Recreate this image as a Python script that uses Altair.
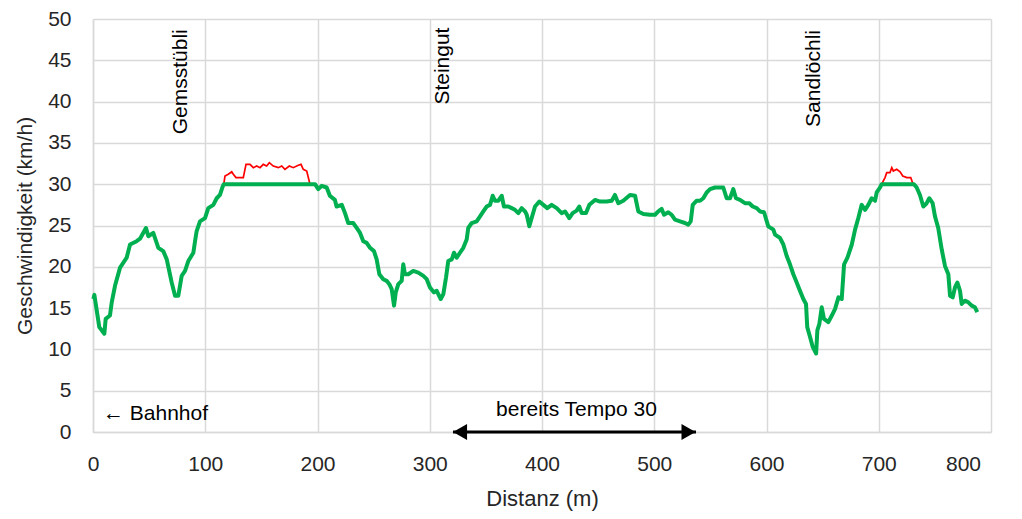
import altair as alt
import pandas as pd

# green: measured speed limited to 30 km/h
distance = [0.3, 1.2, 5.6, 10.1, 11.3, 15.1, 16.7, 19.6, 24.1, 30.0, 33.0, 38.9, 41.9, 47.2, 49.3, 53.7,
            58.2, 62.6, 65.7, 70.1, 73.1, 76.0, 79.0, 82.0, 84.9, 89.4, 90.9, 92.3, 95.3, 99.8, 102.7, 107.2,
            110.2, 113.1, 115.5, 116.5, 197.8, 200.7, 203.7, 208.2, 211.0, 215.5, 217.0, 221.6, 224.5, 227.4,
            231.9, 234.9, 237.9, 240.8, 243.8, 246.8, 250.3, 252.7, 255.1, 258.6, 261.6, 264.0, 266.1, 268.2,
            269.7, 272.0, 275.0, 276.4, 277.9, 280.9, 285.3, 289.8, 294.3, 297.3, 300.2, 303.8, 306.2, 309.8,
            312.1, 314.5, 316.5, 319.6, 321.6, 324.0, 326.9, 329.9, 332.9, 334.3, 337.4, 341.8, 344.8, 347.7,
            350.7, 353.7, 356.1, 358.1, 361.1, 364.1, 366.1, 370.0, 373.0, 375.9, 378.9, 381.9, 384.9, 386.4,
            388.7, 390.8, 393.8, 397.6, 401.2, 404.7, 408.6, 413.1, 417.5, 420.5, 424.3, 427.3, 430.9, 433.2,
            435.4, 439.2, 442.2, 447.2, 451.7, 457.6, 462.1, 465.0, 468.0, 472.4, 478.4, 482.9, 485.8, 490.3,
            496.2, 500.7, 503.6, 506.6, 508.7, 512.5, 515.5, 518.5, 522.9, 527.4, 530.3, 532.5, 534.3, 537.8,
            540.8, 543.7, 546.7, 549.7, 554.1, 558.6, 561.5, 564.5, 567.5, 570.4, 572.8, 576.4, 580.8, 584.7,
            587.7, 591.3, 594.2, 597.8, 601.6, 606.1, 607.6, 612.0, 615.0, 618.0, 620.9, 623.9, 626.9, 629.8,
            632.8, 635.2, 636.3, 638.8, 641.2, 644.2, 645.3, 647.1, 649.2, 651.2, 655.1, 658.2, 661.1, 664.1,
            667.0, 669.1, 672.1, 676.0, 678.9, 681.8, 684.8, 687.8, 690.7, 693.7, 696.7, 698.2, 701.1, 702.6,
            731.4, 733.8, 736.7, 739.7, 742.7, 745.0, 748.0, 750.1, 753.0, 756.1, 759.0, 762.0, 763.5, 765.9,
            767.9, 770.0, 772.4, 773.9, 776.8, 779.8, 782.8, 785.7, 787.8]
speed = [16.1, 16.6, 12.7, 11.9, 13.7, 14.1, 15.7, 17.7, 19.9, 21.1, 22.7, 23.1, 23.4, 24.7, 23.7, 24.1,
         22.3, 21.9, 20.9, 18.1, 16.5, 16.5, 18.9, 19.5, 20.7, 21.7, 23.1, 24.3, 25.5, 25.9, 27.1, 27.5,
         28.3, 28.7, 29.7, 30.0, 30.0, 29.4, 29.8, 29.6, 28.6, 28.1, 27.3, 27.5, 26.5, 25.3,
         25.3, 24.7, 24.1, 23.1, 22.9, 22.3, 21.9, 20.9, 19.1, 18.5, 18.3, 17.9, 17.3, 15.3,
         16.9, 17.9, 18.3, 20.3, 19.1, 19.1, 19.5, 19.3, 18.9, 18.5, 17.5, 16.9, 17.1, 16.1,
         16.7, 18.7, 20.7, 20.9, 21.7, 21.1, 21.7, 22.3, 23.3, 24.7, 25.3, 25.5, 26.1, 26.7,
         27.3, 27.5, 28.6, 28.0, 28.0, 28.6, 27.3, 27.3, 27.1, 26.9, 26.5, 27.1, 26.7, 26.3,
         24.9, 25.9, 27.3, 27.9, 27.5, 27.1, 27.5, 27.1, 26.5, 26.7, 25.9, 26.5, 26.8, 27.3,
         26.5, 26.5, 27.5, 28.1, 27.9, 27.9, 28.0, 28.7, 27.7, 28.0, 28.7, 28.6, 26.7, 26.4,
         26.3, 26.3, 26.7, 27.0, 26.3, 26.6, 26.3, 25.7, 25.5, 25.3, 25.1, 25.5, 27.5, 28.0,
         28.0, 28.3, 29.0, 29.4, 29.6, 29.6, 29.6, 28.3, 28.3, 29.4, 28.3, 28.1, 27.7, 27.7,
         27.3, 27.1, 26.7, 26.6, 24.9, 24.5, 23.9, 23.5, 22.7, 21.3, 20.3, 19.1, 18.1, 17.1,
         16.1, 15.5, 12.7, 11.5, 10.3, 9.5, 12.3, 13.1, 15.1, 13.7, 13.3, 14.1, 14.9, 16.3,
         16.1, 20.3, 21.1, 22.7, 24.5, 25.9, 27.5, 26.9, 27.5, 28.3, 28.0, 29.0, 29.6, 30.0,
         30.0, 29.6, 28.7, 27.3, 27.7, 28.3, 27.7, 26.1, 24.7, 22.1, 20.1, 19.1, 16.5, 16.3,
         17.5, 18.1, 17.1, 15.5, 15.9, 15.7, 15.3, 15.1, 14.5]

# red: measured speed where it exceeds 30 km/h
red_distance = [116.5, 117.6, 120.5, 123.6, 125.0, 127.4, 133.9, 136.3, 139.9, 142.8, 145.8, 148.8, 151.7,
                154.7, 157.1, 160.6, 165.1, 168.1, 171.0, 174.9, 178.4, 182.9, 185.3, 187.3, 190.4, 193.3,
                197.8,
                702.6, 705.6, 707.1, 710.0, 711.6, 713.0, 716.0, 719.0, 721.4, 725.0, 728.5, 730.3, 731.4]
red_speed = [30.0, 31.0, 31.2, 31.5, 31.2, 30.8, 30.8, 32.4, 32.4, 32.0, 32.2, 32.0, 32.4,
             32.2, 32.6, 32.2, 32.0, 32.2, 31.8, 32.2, 32.0, 32.3, 32.4, 31.8, 31.6, 30.0,
             30.0,
             30.0, 30.8, 31.4, 31.4, 32.0, 31.6, 31.8, 31.5, 31.0, 30.8, 30.8, 30.1, 30.0]
red_segment = [1] * 27 + [2] * 13

place_names = ["Gemsstübli", "Steingut", "Sandlöchli"]
place_x = [78.4, 311.4, 641.9]
place_y = [42.4, 44.3, 42.8]

note_texts = ["← Bahnhof", "bereits Tempo 30"]
note_x = [8.9, 430.7]
note_y = [2.2, 2.65]

arrow_start = 320.7
arrow_end = 537.2
arrow_heads_x = [327.0, 530.5]
arrow_heads_shape = ["triangle-left", "triangle-right"]

FONT = "Liberation Sans"

green_df = pd.DataFrame({"d": distance, "v": speed})
red_df = pd.DataFrame({"d": red_distance, "v": red_speed, "seg": red_segment})
places_df = pd.DataFrame({"name": place_names, "d": place_x, "v": place_y})
notes_df = pd.DataFrame({"t": note_texts, "d": note_x, "v": note_y})
arrow_df = pd.DataFrame({"d": [arrow_start], "d2": [arrow_end], "v": [0.0]})
heads_df = pd.DataFrame({"d": arrow_heads_x, "v": [0.0, 0.0], "shape": arrow_heads_shape})

xs = alt.Scale(domain=[0, 800], nice=False)
ys = alt.Scale(domain=[0, 50], nice=False)

x_enc = alt.X("d:Q", scale=xs, axis=alt.Axis(
    values=list(range(0, 801, 100)), title="Distanz (m)", grid=True, ticks=False,
    labelFlush=False, labelPadding=21, titlePadding=14, titleFontSize=22,
    labelOffset={"condition": {"test": "datum.value == 800", "value": -28}, "value": 0}))
y_enc = alt.Y("v:Q", scale=ys, axis=alt.Axis(
    values=list(range(0, 51, 5)), title="Geschwindigkeit (km/h)", grid=True, ticks=False,
    labelPadding=22, titlePadding=12))

red = alt.Chart(red_df).mark_line(color="#ff0000", strokeWidth=1.7).encode(
    x=x_enc, y=y_enc, detail="seg:N")
green = alt.Chart(green_df).mark_line(color="#00b050", strokeWidth=4, strokeJoin="round").encode(
    x=alt.X("d:Q", scale=xs), y=alt.Y("v:Q", scale=ys))

places = alt.Chart(places_df).mark_text(angle=270, align="center", baseline="middle", font=FONT,
                                        fontSize=21, color="#000000").encode(
    x=alt.X("d:Q", scale=xs), y=alt.Y("v:Q", scale=ys), text="name:N")

note1 = alt.Chart(notes_df.iloc[[0]]).mark_text(align="left", baseline="middle", font=FONT, fontSize=21,
                                                color="#000000").encode(
    x=alt.X("d:Q", scale=xs), y=alt.Y("v:Q", scale=ys), text="t:N")
note2 = alt.Chart(notes_df.iloc[[1]]).mark_text(align="center", baseline="middle", font=FONT, fontSize=21,
                                                color="#000000").encode(
    x=alt.X("d:Q", scale=xs), y=alt.Y("v:Q", scale=ys), text="t:N")

shaft = alt.Chart(arrow_df).mark_rule(color="#000000", strokeWidth=3).encode(
    x=alt.X("d:Q", scale=xs), x2="d2:Q", y=alt.Y("v:Q", scale=ys))
heads = alt.Chart(heads_df).mark_point(filled=True, color="#000000", opacity=1, size=260).encode(
    x=alt.X("d:Q", scale=xs), y=alt.Y("v:Q", scale=ys),
    shape=alt.Shape("shape:N", scale=None, legend=None))

chart = alt.layer(red, green, places, note1, note2, shaft, heads).properties(
    width=898, height=413,
    padding={"left": 85, "top": 11, "right": 15, "bottom": 80},
    autosize="none",
).configure_view(stroke=None).configure_axis(
    gridColor="#d9d9d9", gridWidth=1.5, domainColor="#d9d9d9", domainWidth=1.5,
    labelFont=FONT, labelFontSize=21, labelColor="#262626",
    titleFont=FONT, titleFontSize=21, titleColor="#262626", titleFontWeight="normal",
)

chart.save("out.html", embed_options={"renderer": "svg", "actions": False})
